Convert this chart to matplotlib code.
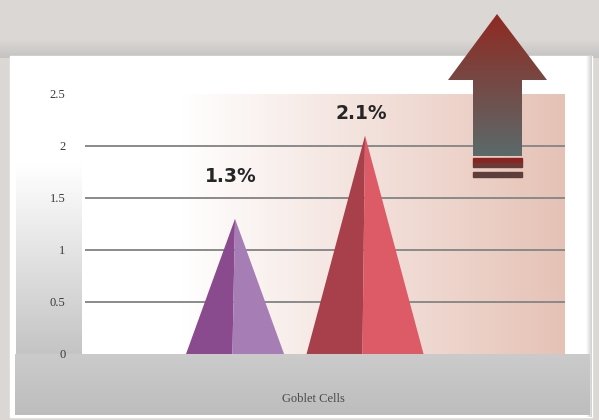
import numpy as np
import matplotlib
matplotlib.use('Agg')
import matplotlib.pyplot as plt
from matplotlib.patches import Polygon, Rectangle
from matplotlib.colors import to_rgb

# data
categories = ['Goblet Cells']
series_values = [1.3, 2.1]
value_labels = ['1.3%', '2.1%']
y_ticks = [0, 0.5, 1, 1.5, 2, 2.5]
y_ticklabels = ['0', '0.5', '1', '1.5', '2', '2.5']

# styles
left_colors = ['#8a4a8e', '#a8404c']
right_colors = ['#a67db4', '#dc5b66']
half_widths = [0.377, 0.45]
label_gap = [0.32, 0.12]

W, H = 599, 420
fig = plt.figure(figsize=(W / 100, H / 100), dpi=100)


def grad(ax, extent, c0, c1, horizontal=True, start=0.0, z=0):
    # c0 -> c1 from left to right, or from top row to bottom row
    n = 256
    t = np.clip((np.linspace(0, 1, n) - start) / (1 - start), 0, 1)
    a, b = np.array(to_rgb(c0)), np.array(to_rgb(c1))
    g = a[None, :] * (1 - t[:, None]) + b[None, :] * t[:, None]
    img = g[None, :, :] if horizontal else g[:, None, :]
    return ax.imshow(img, extent=extent, aspect='auto', zorder=z, interpolation='bilinear')


# background decoration in pixel coordinates
bg = fig.add_axes([0, 0, 1, 1])
bg.set_xlim(0, W)
bg.set_ylim(H, 0)
bg.axis('off')
bg.add_patch(Rectangle((0, 0), W, H, color='#dbd7d4', zorder=0))
grad(bg, (0, W, 58, 40), '#dad7d4', '#c4c3c2', horizontal=False, z=1)
bg.add_patch(Rectangle((10, 56), 582, 361, color='white', zorder=2))
grad(bg, (586, 592, 417, 56), '#ffffff', '#cfcfcf', horizontal=True, z=2)
# left wall
grad(bg, (16, 82, 355, 130), '#ffffff', '#c4c4c4', horizontal=False, start=0.15, z=3)
# floor
grad(bg, (15, 590, 415, 354), '#cbcbcb', '#bdbdbd', horizontal=False, z=3)
bg.set_xlim(0, W)
bg.set_ylim(H, 0)

# chart
ax = fig.add_axes([85 / W, (H - 354) / H, 480 / W, 260 / H])
ax.patch.set_alpha(0)
x = np.arange(len(series_values))
ax.set_xlim(-1.154, 2.538)
ax.set_ylim(0, 2.5)
grad(ax, (-1.154, 2.538, 0, 2.5), '#ffffff', '#e6c2b6', horizontal=True, start=0.2, z=0)
ax.set_xlim(-1.154, 2.538)
ax.set_ylim(0, 2.5)
ax.hlines(y_ticks[1:-1], -1.154, 2.538, color='#8a8a8a', lw=1.4, zorder=1)

for i, v in enumerate(series_values):
    hw = half_widths[i]
    xs = x[i]
    split = xs - 0.02
    ax.fill([xs - hw, xs, split], [0, v, 0], color=left_colors[i], lw=0, zorder=3)
    ax.fill([split, xs, xs + hw], [0, v, 0], color=right_colors[i], lw=0, zorder=3)
    ax.text(xs - 0.03, v + label_gap[i], value_labels[i], ha='center', va='bottom',
            fontsize=13.5, fontweight='bold', color='#262626', family='DejaVu Sans', zorder=4)

ax.set_yticks(y_ticks)
ax.set_yticklabels(y_ticklabels, family='Liberation Serif', fontsize=9, color='#3a3a3a')
ax.tick_params(axis='y', length=0, pad=14)
ax.set_xticks([x.mean() + 0.1])
ax.set_xticklabels(categories, family='Liberation Serif', fontsize=9, color='#4a4a4a')
ax.tick_params(axis='x', length=0, pad=28)
for s in ax.spines.values():
    s.set_visible(False)

# arrow overlay in pixel coordinates
ov = fig.add_axes([0, 0, 1, 1])
ov.patch.set_alpha(0)
ov.axis('off')
arrow = Polygon([(497, 14), (547, 80), (522, 80), (522, 156), (473, 156), (473, 80), (448, 80)],
                closed=True, transform=ov.transData, facecolor='none', edgecolor='none')
ov.add_patch(arrow)
im = grad(ov, (440, 555, 156, 14), '#8f2a22', '#5b6a6a', horizontal=False, z=2)
im.set_clip_path(arrow)
ov.add_patch(Rectangle((473, 157.5), 49, 5, color='#8b2420', zorder=3))
ov.add_patch(Rectangle((473, 162.5), 49, 4, color='#6a3a36', zorder=3))
ov.add_patch(Rectangle((473, 172), 49, 5, color='#5e3e3a', zorder=3))
ov.set_xlim(0, W)
ov.set_ylim(H, 0)

fig.savefig('out.png', dpi=100)
